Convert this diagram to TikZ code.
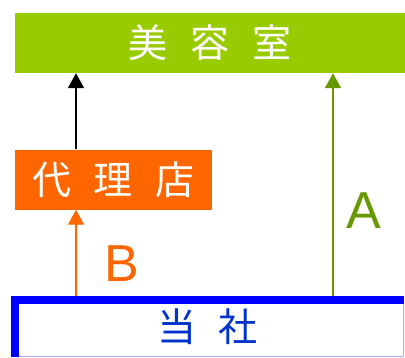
\documentclass[tikz,border=0pt]{standalone}
\usepackage{fontspec}
\setmainfont{Liberation Sans}
\newfontfamily\jafont[WordSpace=2.6]{Noto Sans CJK JP}
\usetikzlibrary{arrows.meta, positioning}
\definecolor{salongreen}{HTML}{99CC00}
\definecolor{linegreen}{HTML}{669900}
\definecolor{agentorange}{HTML}{FF6600}
\definecolor{ownblue}{HTML}{0000FF}
\definecolor{textblue}{HTML}{0033CC}
\definecolor{edgeblue}{HTML}{AAAAFF}

\begin{document}
\begin{tikzpicture}[x=1pt, y=-1pt,
 box node/.style={rectangle, inner sep=0pt, minimum height=60pt,
   font=\jafont\fontsize{39}{39}\selectfont},
 up arrow/.style={-{Triangle[width=16pt,length=15pt]}},
 label node/.style={font=\fontsize{52}{52}\selectfont}]

  \useasboundingbox (0,0) rectangle (405,357);

  \node[box node, fill=salongreen, text=white, minimum width=390pt] (salon) at (210,43) {\raisebox{-3pt}{美 容 室}};
  \node[box node, fill=agentorange, text=white, minimum width=197pt] (agency) at (113.5,179.5) {\raisebox{-2pt}{代 理 店}};
  \node[box node, draw=edgeblue, line width=1pt, text=textblue, minimum width=392pt] (company) at (207.5,326.5) {\raisebox{-7pt}{当 社}};
  \draw[ownblue, line width=8pt] ([xshift=4pt]company.south west) |- ([yshift=-4pt]company.north east);

  \coordinate (colB) at (76,0);
  \coordinate (colA) at (333,0);

  \draw[up arrow, line width=2pt] (agency.north -| colB) -- (salon.south -| colB);
  \draw[up arrow, agentorange, line width=1.2pt] (company.north -| colB) -- (agency.south -| colB);
  \draw[up arrow, linegreen, line width=1.5pt] (company.north -| colA) -- (salon.south -| colA);

  \node[label node, text=agentorange] (labB) at (122,264) {B};
  \node[label node, text=linegreen] (labA) at (364,211) {A};
\end{tikzpicture}
\end{document}
